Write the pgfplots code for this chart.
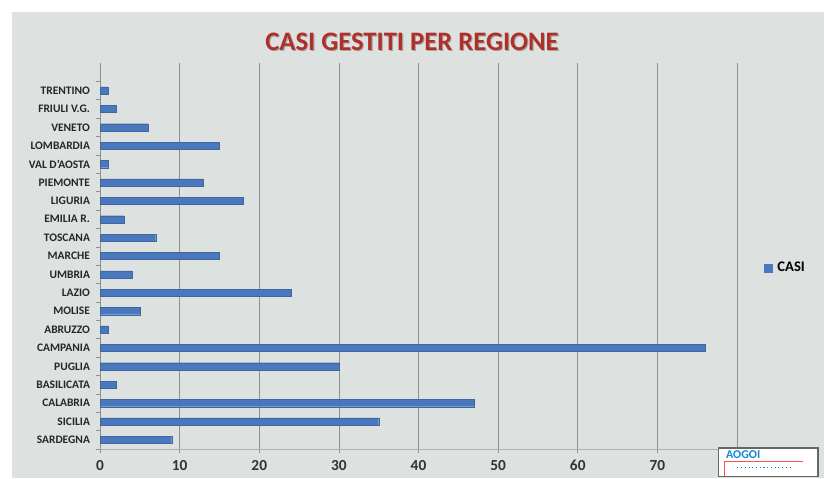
\documentclass[border=0pt]{standalone}
\usepackage{pgfplots}
\pgfplotsset{compat=1.18}
\usepackage{fontspec}
\setmainfont{Carlito}
\usetikzlibrary{backgrounds}
\definecolor{panel}{HTML}{DDE1DF}
\definecolor{barblue}{HTML}{4A78BD}
\definecolor{titlered}{HTML}{AE3029}
\definecolor{gridc}{HTML}{8E9190}
\begin{document}
\begin{tikzpicture}
\begin{axis}[
  scale only axis, width=477.75pt, height=289.5pt,
  xbar, bar width=5.4pt,
  xmin=0, xmax=80, ymin=-0.5, ymax=20.5,
  xtick={0,10,...,80},
  xticklabels={0,10,20,30,40,50,60,70,{}},
  ytick={0,...,19},
  yticklabels={SARDEGNA,SICILIA,CALABRIA,BASILICATA,PUGLIA,CAMPANIA,ABRUZZO,MOLISE,LAZIO,UMBRIA,MARCHE,TOSCANA,EMILIA R.,LIGURIA,PIEMONTE,VAL D'AOSTA,LOMBARDIA,VENETO,FRIULI V.G.,TRENTINO},
  ytick style={draw=none},
  extra y ticks={-0.5,0.5,...,19.5},
  extra y tick labels={},
  extra y tick style={ytick style={draw=gridc, line width=0.4pt}, tick align=outside},
  xtick style={draw=gridc, line width=0.4pt},
  tick align=outside, major tick length=3pt,
  xmajorgrids, major grid style={draw=gridc, line width=0.5pt},
  axis x line*=bottom, axis y line*=left,
  x axis line style={draw=gridc!70, -},
  y axis line style={draw=gridc, -},
  /pgf/number format/assume math mode=true,
  xticklabel style={font=\bfseries\fontsize{11.5}{11.5}\selectfont, text=black!80, yshift=-2pt},
  yticklabel style={font=\bfseries\fontsize{8.6}{8.6}\selectfont, text=black!85, xshift=-1pt},
  legend style={at={(1.036,0.469)}, anchor=west, draw=none, fill=none,
    font=\bfseries\fontsize{11}{11}\selectfont},
  legend image code/.code={\fill[barblue] (0cm,-0.1cm) rectangle (0.2cm,0.1cm); \path (0.27cm,0cm);},
]
\addplot[fill=barblue, draw=barblue!85!black, line width=0.2pt] coordinates {
(9,0) (35,1) (47,2) (2,3) (30,4) (76,5) (1,6) (5,7) (24,8) (4,9)
(15,10) (7,11) (3,12) (18,13) (13,14) (1,15) (15,16) (6,17) (2,18) (1,19)
};
\addlegendentry{CASI}
\coordinate (O) at (axis cs:0,-0.5);
\end{axis}
\begin{scope}[shift={(O)}, x=1pt, y=1pt]
\begin{scope}[on background layer]
\fill[white] (-75,336.75) rectangle (543,-21.75);
\fill[panel] (-66,327.75) rectangle (543,-21.75);
\end{scope}
\node[text=black!35, font=\bfseries\fontsize{20}{20}\selectfont] at (234.8,304.5) {CASI GESTITI PER REGIONE};
\node[text=titlered, font=\bfseries\fontsize{20}{20}\selectfont] at (234,305.25) {CASI GESTITI PER REGIONE};
\draw[black!60, fill=white, line width=0.8pt] (464,0.75) rectangle (538.5,-20.75);
\node[text=cyan!70!blue, font=\bfseries\fontsize{9}{9}\selectfont, anchor=west] at (466,-4.5) {AOGOI};
\draw[red!70, line width=0.6pt] (468,-9.5) -- (527,-9.5);
\draw[red!70, line width=0.6pt] (468,-9.5) -- (468,-20.25);
\draw[cyan!60!blue, line width=0.8pt, dotted] (478,-14) -- (520,-14);
\end{scope}
\end{tikzpicture}
\end{document}
